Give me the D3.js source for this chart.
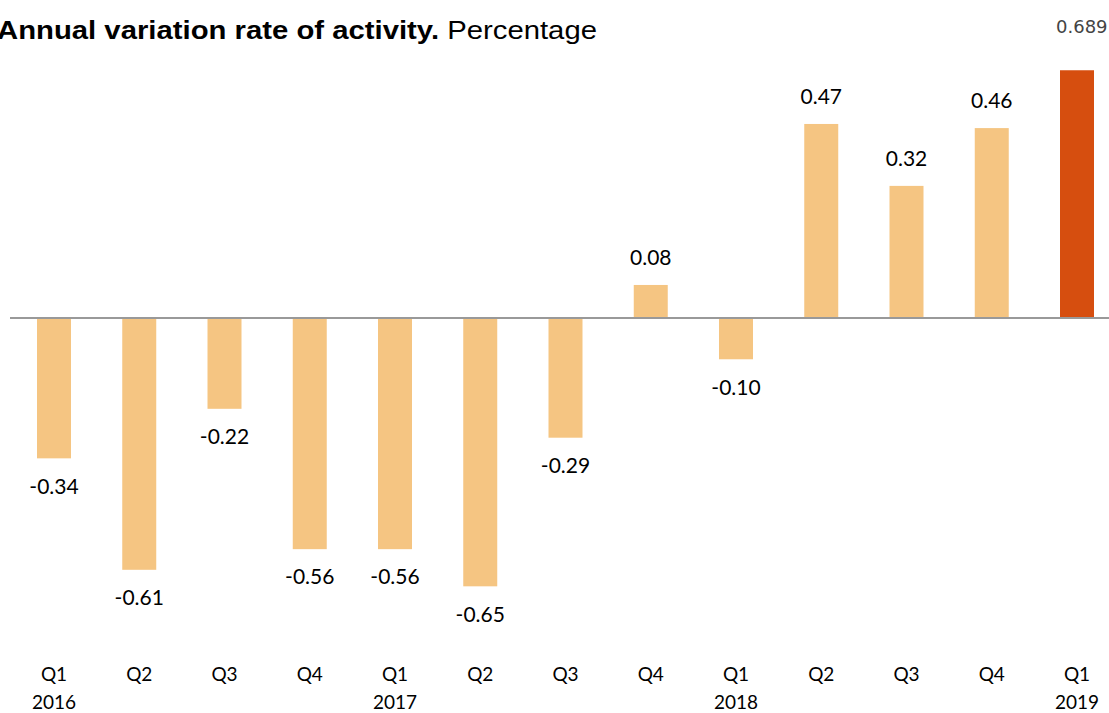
<!DOCTYPE html>
<html lang="en">
<head>
    <meta charset="UTF-8">
    <title>Annual variation rate of activity</title>
    <script src="https://d3js.org/d3.v7.min.js"></script>
    <style>
        body { margin: 0; background: #fff; overflow: hidden; }
    </style>
</head>
<body>
<script>
    // chart data
    const quarters = ["Q1", "Q2", "Q3", "Q4", "Q1", "Q2", "Q3", "Q4", "Q1", "Q2", "Q3", "Q4", "Q1"];
    const years = ["2016", "", "", "", "2017", "", "", "", "2018", "", "", "", "2019"];
    const values = [-0.34, -0.61, -0.22, -0.56, -0.56, -0.65, -0.29, 0.08, -0.10, 0.47, 0.32, 0.46, 0.68];
    const labels = ["-0.34", "-0.61", "-0.22", "-0.56", "-0.56", "-0.65", "-0.29", "0.08", "-0.10", "0.47", "0.32", "0.46", "0.689"];

    const width = 1109, height = 713;

    let svg = d3.select("body").append("svg")
        .attr("width", width)
        .attr("height", height);

    let x = d3.scalePoint()
        .domain(d3.range(values.length))
        .range([54, 1077]);

    let y = d3.scaleLinear()
        .domain([-0.75, 0.6])
        .range([627.6, 70.3]);

    const barW = 34;
    const last = values.length - 1;

    // plot area clips the tallest bar, as in the original
    svg.append("clipPath").attr("id", "plot")
        .append("rect")
        .attr("x", 0).attr("y", y(0.6))
        .attr("width", width).attr("height", height);

    // title
    let title = svg.append("text")
        .attr("x", -3)
        .attr("y", 39)
        .attr("font-family", "'Liberation Sans', Arial, sans-serif")
        .attr("font-size", "26px")
        .attr("textLength", 600)
        .attr("lengthAdjust", "spacingAndGlyphs")
        .attr("fill", "#000");
    title.append("tspan").attr("font-weight", "bold").text("Annual variation rate of activity.");
    title.append("tspan").text(" Percentage");

    // bars
    svg.append("g")
        .attr("clip-path", "url(#plot)")
        .selectAll("rect")
        .data(values)
        .enter().append("rect")
        .attr("x", (d, i) => x(i) - barW / 2)
        .attr("y", d => y(Math.max(0, d)))
        .attr("width", barW)
        .attr("height", d => Math.abs(y(d) - y(0)))
        .attr("fill", (d, i) => i === last ? "#D64E0F" : "#F5C582");

    // zero line
    svg.append("line")
        .attr("x1", 10).attr("x2", width)
        .attr("y1", y(0)).attr("y2", y(0))
        .attr("stroke", "#999")
        .attr("stroke-width", 2);

    // value labels
    svg.append("g")
        .selectAll("text")
        .data(values.slice(0, last))
        .enter().append("text")
        .attr("x", (d, i) => x(i))
        .attr("y", d => d >= 0 ? y(d) - 25 : y(d) + 30)
        .attr("text-anchor", "middle")
        .attr("dominant-baseline", "middle")
        .attr("font-family", "Lato, 'Open Sans', sans-serif")
        .attr("font-size", "21px")
        .attr("fill", "#000")
        .text((d, i) => labels[i]);

    // label of the clipped bar sits at the top
    svg.append("text")
        .attr("x", x(last) - 21)
        .attr("y", 28)
        .attr("dominant-baseline", "middle")
        .attr("font-family", "'DejaVu Sans', sans-serif")
        .attr("font-size", "18px")
        .attr("fill", "#444")
        .text(labels[last]);

    // category axis
    let axis = svg.append("g")
        .attr("font-family", "Lato, 'Open Sans', sans-serif")
        .attr("font-size", "19px")
        .attr("fill", "#000")
        .attr("text-anchor", "middle");

    axis.selectAll(".q")
        .data(quarters)
        .enter().append("text")
        .attr("class", "q")
        .attr("x", (d, i) => x(i))
        .attr("y", 676)
        .attr("dominant-baseline", "middle")
        .text(d => d);

    axis.selectAll(".yr")
        .data(years)
        .enter().append("text")
        .attr("class", "yr")
        .attr("x", (d, i) => x(i))
        .attr("y", 704)
        .attr("dominant-baseline", "middle")
        .text(d => d);
</script>
</body>
</html>
